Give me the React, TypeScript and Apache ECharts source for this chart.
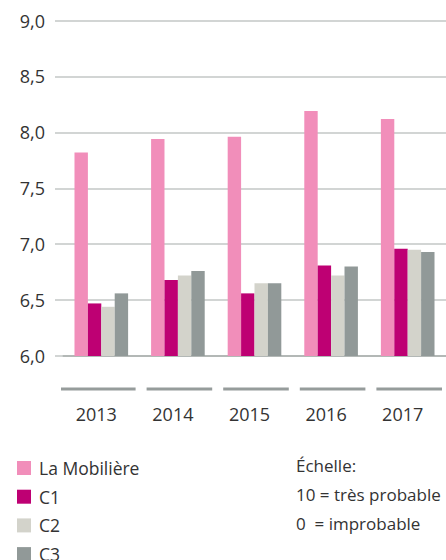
import React, { useEffect, useRef } from "react";
import * as echarts from "echarts";

const years = ["2013", "2014", "2015", "2016", "2017"];
const laMobiliere = [7.82, 7.94, 7.96, 8.19, 8.12];
const c1 = [6.47, 6.68, 6.56, 6.81, 6.96];
const c2 = [6.44, 6.72, 6.65, 6.72, 6.95];
const c3 = [6.56, 6.76, 6.65, 6.8, 6.93];
const seriesNames = ["La Mobilière", "C1", "C2", "C3"];
const colors = ["#F18EBA", "#BE0073", "#D3D3CB", "#919998"];
const scaleTexts = ["Échelle:", "10 = très probable", "0  = improbable"];

const FONT = "'Open Sans', 'Noto Sans', sans-serif";
const TEXT_COLOR = "#333333";

export default function App() {
  const ref = useRef<HTMLDivElement>(null);
  useEffect(() => {
    if (!ref.current) return;
    const chart = echarts.init(ref.current, null, { renderer: "svg" });
    const values = [laMobiliere, c1, c2, c3];
    const barSeries = seriesNames.map((name, i) => ({
      name,
      type: "bar",
      data: values[i],
      itemStyle: { color: colors[i] },
      barGap: "0%",
      barCategoryGap: "30%",
    }));
    chart.setOption({
      animation: false,
      textStyle: { fontFamily: FONT },
      grid: { left: 63, right: -4.5, top: 20.5, bottom: 204, containLabel: false },
      xAxis: {
        type: "category",
        data: years,
        axisLine: { show: true, lineStyle: { color: "#a9aeac", width: 1.5 } },
        axisTick: { show: false },
        axisLabel: {
          color: TEXT_COLOR,
          fontSize: 18,
          fontFamily: FONT,
          lineHeight: 20,
          margin: 48,
          padding: [0, 10, 0, 0],
        },
      },
      yAxis: {
        type: "value",
        min: 6,
        max: 9,
        interval: 0.5,
        axisLine: { show: false },
        axisTick: { show: true, length: 8, lineStyle: { color: "#c3c7c6", width: 1.5 } },
        splitLine: { show: true, lineStyle: { color: "#c3c7c6", width: 1.5 } },
        axisLabel: {
          color: TEXT_COLOR,
          fontSize: 18,
          fontFamily: FONT,
          margin: 18,
          formatter: (v: number) => v.toFixed(1).replace(".", ","),
        },
      },
      legend: {
        orient: "vertical",
        left: 12,
        top: 453,
        height: 120,
        icon: "rect",
        itemWidth: 14,
        itemHeight: 14,
        itemGap: 8.7,
        data: seriesNames,
        textStyle: { color: TEXT_COLOR, fontSize: 17.5, fontFamily: FONT, lineHeight: 20, padding: [0, 0, 0, 3] },
      },
      graphic: scaleTexts.map((t, i) => ({
        type: "text",
        left: 296,
        top: 457 + i * 29,
        style: { text: t, fill: TEXT_COLOR, font: `17px ${FONT}` },
      })),
      series: [
        ...barSeries,
        {
          type: "custom",
          name: "segments",
          data: years.map((_, i) => [i]),
          encode: { x: 0 },
          clip: false,
          silent: true,
          renderItem: (params: any, api: any) => {
            const idx = api.value(0);
            const base = api.coord([idx, 6]);
            const band = api.size([1, 0])[0];
            const start = base[0] - band / 2;
            const end = base[0] + band / 2;
            const x1 = idx === 0 ? start - 2 : start + 7;
            const x2 = end - 4;
            return {
              type: "line",
              shape: { x1, y1: base[1] + 33, x2, y2: base[1] + 33 },
              style: { stroke: "#969c9b", lineWidth: 3 },
            };
          },
        },
      ],
    });
    return () => chart.dispose();
  }, []);
  return <div ref={ref} style={{ width: 446, height: 560, position: "absolute", left: 0, top: 0 }} />;
}
